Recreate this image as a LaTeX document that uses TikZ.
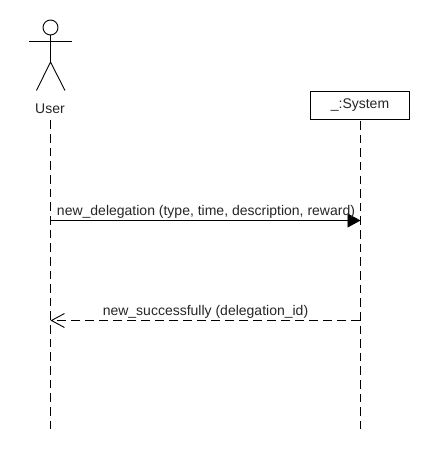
\documentclass[tikz,border=0pt]{standalone}
\usepackage{fontspec}
\setmainfont{Liberation Sans}
\usetikzlibrary{arrows.meta}
\tikzset{
  line/.style={draw=black,line width=0.9pt},
  lifeline/.style={line,dash pattern=on 8.6pt off 5.04pt},
  lbl/.style={inner sep=0pt,font=\fontsize{14}{16}\selectfont,text=black!85},
  callmsg/.style={line,-{Triangle[length=13pt,width=14pt]},shorten >=-0.5pt},
  retmsg/.style={line,dash pattern=on 9pt off 5pt,-{Straight Barb[length=13pt,width=14pt,line width=0.9pt]}}
}
\begin{document}
\begin{tikzpicture}[x=1pt,y=-1pt]
\useasboundingbox (0,0) rectangle (430,470);
\fill[white] (0,0) rectangle (430,470);
% actor
\node[line,circle,minimum size=15pt,inner sep=0pt] (head) at (50.5,27.5) {};
\coordinate (armL) at (29,41);
\coordinate (armR) at (72,41);
\coordinate (hip) at (50.5,62);
\coordinate (legL) at (36.5,90.5);
\coordinate (legR) at (65,90.5);
\draw[line] (head.south) -- (hip);
\draw[line] (armL) -- (armR);
\draw[line] (legL) -- (hip) -- (legR);
\node[lbl] (user) at (50,108.7) {User};
% system
\node[line,minimum width=99pt,minimum height=28pt,inner sep=0pt,lbl] (sys) at (360,105) {\_:System};
% lifelines
\coordinate (userTop) at (50.5,120.5);
\coordinate (userEnd) at (50.5,428.5);
\coordinate (sysEnd) at (360,428.5);
\draw[lifeline] (userTop) -- (userEnd);
\draw[lifeline,dash phase=12.14pt] (sys.south) -- (sysEnd);
% messages
\coordinate (u1) at (50.5,220.5);
\coordinate (s1) at (360,220.5);
\coordinate (u2) at (50.5,320.5);
\coordinate (s2) at (360,320.5);
\draw[callmsg] (u1) -- (s1);
\draw[retmsg] (s2) -- (u2);
\node[lbl] (m1) at (206,212) {new\_delegation (type, time, description, reward)};
\node[lbl] (m2) at (205.5,312) {new\_successfully (delegation\_id)};
\end{tikzpicture}
\end{document}
